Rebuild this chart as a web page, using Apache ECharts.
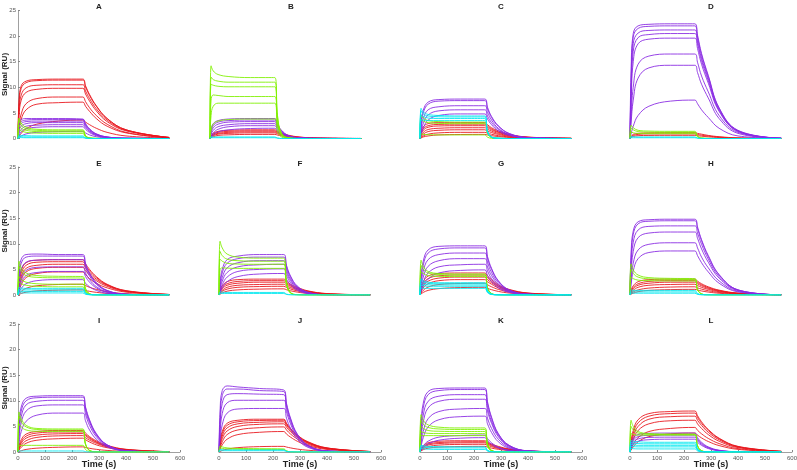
<!DOCTYPE html>
<html><head><meta charset="utf-8">
<script src="https://cdn.jsdelivr.net/npm/echarts@6/dist/echarts.min.js"></script>
<style>html,body{margin:0;padding:0;background:#fff}#c{width:797px;height:470px}</style>
</head><body><div id="c"></div>
<script>
// sample times (s)
const T = [0, 4, 12, 30, 70, 150, 240, 250, 265, 290, 330, 400, 560];
const panelNames = ['A','B','C','D','E','F','G','H','I','J','K','L'];
const xTicks = [0,100,200,300,400,500,600];
const yTicks = [0,5,10,15,20,25];

// ---- Panel A ----
const A_red = [
[0,7.5,10.3,11.2,11.5,11.6,11.6,10.3,8.6,6.4,3.9,1.7,0.2],
[0,6.8,9.8,10.9,11.3,11.4,11.4,10.1,8.4,6.3,3.9,1.7,0.2],
[0,5.5,8.5,9.9,10.4,10.5,10.5,9.3,7.8,5.8,3.6,1.6,0.2],
[0,4.5,7.5,9.0,9.6,9.8,9.8,8.7,7.3,5.4,3.3,1.5,0.2],
[0,2.5,4.8,6.8,7.8,8.1,8.1,7.2,6.0,4.5,2.8,1.2,0.1],
[0,1.8,3.8,5.6,6.7,7.0,7.1,6.3,5.3,3.9,2.4,1.1,0.1],
[0,0.4,1.0,1.9,2.8,3.4,3.6,3.2,2.7,2.0,1.2,0.5,0.05]];
const A_purple = [
[0,3.2,3.7,3.9,3.9,3.9,3.8,2.9,1.9,0.9,0.3,0.05,0],
[0,2.6,3.3,3.6,3.7,3.7,3.7,2.8,1.8,0.9,0.3,0.05,0],
[0,2.0,2.9,3.3,3.4,3.4,3.4,2.6,1.7,0.8,0.25,0.04,0],
[0,1.5,2.4,2.9,3.1,3.1,3.1,2.4,1.5,0.75,0.25,0.04,0],
[0,1.0,1.8,2.4,2.6,2.7,2.7,2.1,1.35,0.65,0.2,0.03,0],
[0,0.6,1.3,1.9,2.2,2.3,2.3,1.8,1.15,0.55,0.18,0.03,0],
[0,0.2,0.5,0.9,1.2,1.35,1.4,1.1,0.7,0.35,0.1,0.02,0]];
const A_green = [
[0,4.0,3.0,2.2,1.8,1.7,1.7,0.6,0.12,0.02,0,0,0],
[0,3.5,2.6,1.9,1.6,1.5,1.5,0.5,0.1,0.02,0,0,0],
[0,2.6,2.0,1.6,1.35,1.3,1.3,0.45,0.1,0.02,0,0,0],
[0,1.8,1.5,1.2,1.05,1.0,1.0,0.35,0.08,0.01,0,0,0]];
const A_cyan = [
[0,0.7,0.6,0.55,0.5,0.5,0.5,0.15,0.03,0,0,0,0],
[0,0.4,0.35,0.3,0.3,0.3,0.3,0.1,0.02,0,0,0,0],
[0,0.2,0.18,0.15,0.15,0.15,0.15,0.05,0,0,0,0,0]];

// ---- Panel B ----
const B_red = [
[0,0.5,1.0,1.4,1.6,1.7,1.7,1.4,1.05,0.65,0.3,0.08,0],
[0,0.4,0.85,1.2,1.4,1.5,1.5,1.25,0.92,0.57,0.26,0.07,0],
[0,0.3,0.7,1.0,1.2,1.3,1.3,1.1,0.8,0.5,0.22,0.06,0],
[0,0.25,0.55,0.85,1.0,1.1,1.1,0.92,0.68,0.42,0.19,0.05,0],
[0,0.15,0.35,0.6,0.72,0.8,0.8,0.67,0.5,0.3,0.14,0.04,0]];
const B_purple = [
[0,1.8,2.9,3.5,3.8,3.9,3.9,2.8,1.6,0.6,0.15,0.02,0],
[0,1.4,2.5,3.2,3.5,3.6,3.6,2.6,1.5,0.55,0.14,0.02,0],
[0,1.1,2.1,2.8,3.2,3.3,3.3,2.4,1.35,0.5,0.12,0.02,0],
[0,0.8,1.6,2.3,2.7,2.9,2.9,2.1,1.2,0.45,0.1,0.01,0],
[0,0.5,1.1,1.8,2.3,2.5,2.5,1.8,1.0,0.4,0.1,0.01,0],
[0,0.3,0.7,1.3,1.7,1.95,2.0,1.45,0.8,0.3,0.08,0.01,0]];
const B_green = [
[0,14.2,13.2,12.5,12.1,11.9,11.9,4.5,1.0,0.15,0,0,0],
[0,12.0,11.5,11.2,11.0,11.0,11.0,4.2,0.9,0.1,0,0,0],
[0,10.6,10.4,10.2,10.1,10.1,10.1,3.8,0.8,0.1,0,0,0],
[0,7.5,8.5,8.4,8.2,8.2,8.2,3.1,0.7,0.1,0,0,0],
[0,4.5,6.3,6.9,6.9,6.9,6.9,2.6,0.6,0.1,0,0,0],
[0,1.5,2.8,3.4,3.7,3.8,3.8,1.4,0.3,0.05,0,0,0]];
const B_cyan = [
[0,0.35,0.3,0.3,0.3,0.3,0.3,0.1,0.02,0,0,0,0],
[0,0.15,0.15,0.15,0.15,0.15,0.15,0.05,0,0,0,0,0]];

// ---- Panel C ----
const C_red = [
[0,1.3,2.3,2.9,3.1,3.1,3.1,2.7,2.1,1.5,0.8,0.28,0.03],
[0,1.0,1.9,2.5,2.75,2.8,2.8,2.4,1.9,1.3,0.73,0.25,0.03],
[0,0.8,1.6,2.2,2.45,2.5,2.5,2.15,1.7,1.2,0.65,0.22,0.02],
[0,0.55,1.2,1.75,2.0,2.1,2.1,1.8,1.45,1.0,0.55,0.19,0.02],
[0,0.35,0.85,1.35,1.6,1.7,1.7,1.46,1.17,0.8,0.44,0.15,0.02],
[0,0.2,0.5,0.85,1.1,1.2,1.2,1.03,0.83,0.56,0.31,0.11,0.01],
[0,0.1,0.3,0.5,0.7,0.78,0.8,0.69,0.55,0.38,0.21,0.07,0]];
const C_purple = [
[0,3.0,5.5,7.1,7.6,7.7,7.7,6.1,4.3,2.5,1.0,0.2,0],
[0,2.6,5.0,6.7,7.3,7.4,7.4,5.8,4.1,2.4,0.95,0.18,0],
[0,1.9,3.9,5.6,6.2,6.4,6.4,5.1,3.6,2.0,0.8,0.16,0],
[0,1.3,2.9,4.6,5.4,5.6,5.6,4.4,3.1,1.8,0.7,0.14,0],
[0,0.8,2.0,3.6,4.5,4.8,4.8,3.8,2.7,1.5,0.6,0.12,0]];
const C_green = [
[0,4.6,4.0,3.5,3.3,3.2,3.2,1.1,0.2,0.03,0,0,0],
[0,3.8,3.4,3.1,2.95,2.9,2.9,1.0,0.2,0.03,0,0,0],
[0,0.9,0.8,0.75,0.7,0.7,0.7,0.25,0.05,0,0,0,0]];
const C_cyan = [
[0,5.9,5.2,4.7,4.5,4.4,4.4,1.5,0.3,0.05,0,0,0],
[0,5.4,4.8,4.4,4.25,4.2,4.2,1.4,0.3,0.05,0,0,0],
[0,4.6,4.3,4.0,3.9,3.9,3.9,1.3,0.25,0.04,0,0,0],
[0,3.6,3.6,3.5,3.5,3.5,3.5,1.2,0.25,0.04,0,0,0]];

// ---- Panel D ----
const D_red = [
[0,0.4,0.8,1.0,1.1,1.15,1.15,1.0,0.85,0.6,0.35,0.12,0.01],
[0,0.3,0.6,0.8,0.9,0.9,0.9,0.78,0.65,0.47,0.27,0.09,0.01],
[0,0.2,0.4,0.55,0.6,0.62,0.62,0.54,0.45,0.32,0.19,0.06,0]];
const D_purple = [
[0,13,20.5,22.0,22.3,22.4,22.4,20.2,16.6,12.3,6.0,1.6,0.05],
[0,11,19.8,21.5,21.9,22.0,22.0,19.8,16.3,12.1,5.9,1.5,0.05],
[0,9.5,18.5,20.6,21.1,21.2,21.2,19.1,15.7,11.7,5.7,1.5,0.05],
[0,8,17,19.7,20.3,20.5,20.5,18.5,15.2,11.3,5.5,1.4,0.05],
[0,6.5,15,18.5,19.4,19.6,19.6,17.6,14.5,10.8,5.3,1.4,0.05],
[0,4.0,10,14.5,16.1,16.5,16.5,14.9,12.2,9.1,4.5,1.2,0.04],
[0,3.0,7.5,11.8,13.8,14.3,14.3,12.9,10.6,7.9,3.9,1.0,0.03],
[0,0.9,2.4,4.5,6.3,7.3,7.5,6.8,5.6,4.1,2.0,0.5,0.02]];
const D_green = [
[0,2.6,2.1,1.6,1.45,1.4,1.4,0.5,0.1,0.02,0,0,0],
[0,2.0,1.7,1.35,1.25,1.2,1.2,0.42,0.08,0.01,0,0,0],
[0,1.3,1.1,1.0,0.95,0.95,0.95,0.33,0.07,0.01,0,0,0]];
const D_cyan = [
[0,0.4,0.35,0.3,0.3,0.3,0.3,0.1,0.02,0,0,0,0],
[0,0.15,0.15,0.15,0.15,0.15,0.15,0.05,0,0,0,0,0]];

// ---- Panel E ----
const E_red = [
[0,2.5,4.8,6.3,6.8,6.9,6.9,6.1,5.0,3.6,2.1,0.86,0.1],
[0,2.0,4.2,5.8,6.4,6.5,6.5,5.7,4.7,3.4,2.0,0.8,0.1],
[0,1.6,3.6,5.2,5.8,6.0,6.0,5.3,4.3,3.1,1.9,0.75,0.1],
[0,1.2,2.9,4.5,5.2,5.4,5.4,4.75,3.9,2.8,1.7,0.68,0.09],
[0,0.8,2.0,3.4,4.2,4.5,4.5,4.0,3.2,2.3,1.4,0.56,0.07],
[0,0.3,0.7,1.3,1.8,2.05,2.1,1.85,1.5,1.1,0.65,0.26,0.03],
[0,0.1,0.3,0.55,0.8,0.95,1.0,0.88,0.72,0.52,0.31,0.12,0.02]];
const E_purple = [
[0,4.5,7.0,7.9,8.0,7.9,7.9,6.2,4.3,2.4,0.9,0.15,0],
[0,3.5,6.2,7.4,7.6,7.6,7.6,5.9,4.1,2.3,0.85,0.15,0],
[0,2.5,5.0,6.4,6.8,6.9,6.9,5.4,3.7,2.1,0.8,0.14,0],
[0,1.5,3.3,4.8,5.4,5.5,5.5,4.3,3.0,1.65,0.6,0.1,0],
[0,1.0,2.4,3.8,4.4,4.6,4.6,3.6,2.5,1.4,0.5,0.09,0],
[0,0.5,1.3,2.2,2.8,3.0,3.0,2.3,1.6,0.9,0.33,0.06,0]];
const E_green = [
[0,6.6,5.3,4.3,3.8,3.65,3.6,1.3,0.25,0.04,0,0,0],
[0,5.6,4.6,3.8,3.45,3.35,3.3,1.2,0.23,0.03,0,0,0],
[0,3.6,3.0,2.5,2.2,2.1,2.1,0.75,0.15,0.02,0,0,0],
[0,2.6,2.2,1.9,1.7,1.6,1.6,0.57,0.11,0.02,0,0,0]];
const E_cyan = [
[0,1.5,1.35,1.3,1.3,1.3,1.3,0.45,0.09,0.01,0,0,0],
[0,1.1,1.0,1.0,1.0,1.0,1.0,0.35,0.07,0.01,0,0,0],
[0,0.8,0.7,0.7,0.7,0.7,0.7,0.25,0.05,0,0,0,0],
[0,0.4,0.4,0.4,0.4,0.4,0.4,0.14,0.03,0,0,0,0]];

// ---- Panel F ----
const F_red = [
[0,0.9,1.8,2.6,3.0,3.1,3.1,2.7,2.1,1.5,0.8,0.28,0.03],
[0,0.7,1.5,2.2,2.65,2.8,2.8,2.4,1.9,1.3,0.73,0.25,0.03],
[0,0.55,1.2,1.9,2.3,2.5,2.5,2.15,1.7,1.2,0.65,0.22,0.02],
[0,0.4,0.9,1.5,1.9,2.05,2.1,1.8,1.45,1.0,0.55,0.19,0.02],
[0,0.3,0.7,1.15,1.5,1.65,1.7,1.46,1.17,0.8,0.44,0.15,0.02],
[0,0.15,0.4,0.75,1.0,1.15,1.2,1.03,0.83,0.56,0.31,0.11,0.01]];
const F_purple = [
[0,2.5,5.0,6.9,7.6,7.9,7.9,5.8,3.7,1.75,0.53,0.06,0],
[0,2.0,4.3,6.2,7.1,7.4,7.4,5.5,3.5,1.6,0.5,0.06,0],
[0,1.5,3.4,5.3,6.3,6.7,6.7,5.0,3.1,1.5,0.45,0.05,0],
[0,1.1,2.7,4.4,5.5,5.9,6.0,4.4,2.8,1.3,0.4,0.05,0],
[0,0.8,2.0,3.5,4.6,5.0,5.1,3.8,2.4,1.1,0.34,0.04,0],
[0,0.5,1.4,2.6,3.6,4.1,4.2,3.1,2.0,0.92,0.28,0.03,0]];
const F_green = [
[0,10.5,9.2,8.0,7.4,7.2,7.2,2.6,0.5,0.07,0,0,0],
[0,8.5,7.7,7.0,6.7,6.6,6.6,2.4,0.45,0.06,0,0,0],
[0,7.0,6.6,6.2,6.05,6.0,6.0,2.2,0.4,0.05,0,0,0],
[0,5.0,5.3,5.25,5.2,5.2,5.2,1.9,0.35,0.05,0,0,0]];
const F_cyan = [
[0,0.6,0.55,0.5,0.5,0.5,0.5,0.18,0.04,0,0,0,0],
[0,0.3,0.3,0.3,0.3,0.3,0.3,0.1,0.02,0,0,0,0]];

// ---- Panel G ----
const G_red = [
[0,1.3,2.6,3.7,4.2,4.3,4.3,3.7,3.0,2.0,1.1,0.39,0.04],
[0,1.0,2.2,3.2,3.75,3.9,3.9,3.35,2.7,1.8,1.0,0.35,0.04],
[0,0.8,1.8,2.7,3.3,3.5,3.5,3.0,2.4,1.65,0.9,0.32,0.03],
[0,0.6,1.4,2.2,2.8,3.0,3.0,2.6,2.1,1.4,0.78,0.27,0.03],
[0,0.4,0.9,1.55,2.05,2.25,2.3,2.0,1.6,1.1,0.6,0.21,0.02],
[0,0.2,0.5,0.9,1.25,1.45,1.5,1.3,1.04,0.7,0.39,0.14,0.01]];
const G_purple = [
[0,3.5,6.6,8.8,9.5,9.6,9.6,7.5,5.2,2.8,1.0,0.17,0],
[0,2.9,5.8,8.2,9.0,9.2,9.2,7.2,5.0,2.7,0.97,0.17,0],
[0,2.2,4.6,6.9,7.9,8.2,8.2,6.4,4.4,2.4,0.86,0.15,0],
[0,1.6,3.5,5.6,6.7,7.1,7.1,5.5,3.8,2.1,0.75,0.13,0],
[0,1.1,2.5,4.3,5.5,5.9,6.0,4.7,3.2,1.75,0.63,0.11,0],
[0,0.7,1.7,3.1,4.3,4.8,4.9,3.8,2.65,1.4,0.51,0.09,0]];
const G_green = [
[0,6.8,5.6,4.6,4.2,4.1,4.1,1.5,0.3,0.04,0,0,0],
[0,5.8,5.0,4.3,4.0,3.9,3.9,1.4,0.28,0.04,0,0,0],
[0,4.5,4.2,3.8,3.65,3.6,3.6,1.3,0.26,0.04,0,0,0]];
const G_cyan = [
[0,3.2,2.8,2.5,2.4,2.4,2.4,0.85,0.17,0.02,0,0,0],
[0,2.8,2.5,2.3,2.2,2.2,2.2,0.78,0.15,0.02,0,0,0],
[0,2.3,2.1,2.0,1.95,1.95,1.95,0.7,0.14,0.02,0,0,0],
[0,1.9,1.8,1.7,1.7,1.7,1.7,0.6,0.12,0.02,0,0,0],
[0,1.4,1.3,1.3,1.3,1.3,1.3,0.46,0.09,0.01,0,0,0]];

// ---- Panel H ----
const H_red = [
[0,0.9,1.8,2.6,3.0,3.1,3.1,2.7,2.2,1.6,0.95,0.38,0.05],
[0,0.7,1.5,2.2,2.65,2.8,2.8,2.45,2.0,1.45,0.86,0.34,0.04],
[0,0.55,1.2,1.9,2.3,2.5,2.5,2.2,1.8,1.3,0.77,0.3,0.04],
[0,0.4,0.9,1.5,1.9,2.05,2.1,1.85,1.5,1.1,0.65,0.26,0.03],
[0,0.25,0.6,1.0,1.35,1.55,1.6,1.4,1.15,0.83,0.5,0.2,0.02],
[0,0.15,0.35,0.65,0.9,1.05,1.1,0.97,0.79,0.57,0.34,0.14,0.02]];
const H_purple = [
[0,8.0,12.5,14.3,14.7,14.8,14.8,13.3,10.8,7.7,4.0,1.0,0.03],
[0,7.0,11.8,13.9,14.4,14.5,14.5,13.0,10.6,7.5,3.9,1.0,0.03],
[0,5.5,10.3,12.7,13.4,13.5,13.5,12.1,9.9,7.0,3.6,0.95,0.03],
[0,4.2,8.5,11.2,12.1,12.3,12.3,11.1,9.0,6.4,3.3,0.86,0.02],
[0,2.8,6.2,8.8,9.9,10.2,10.2,9.2,7.4,5.3,2.75,0.71,0.02],
[0,2.0,4.7,7.1,8.3,8.6,8.6,7.7,6.3,4.5,2.3,0.6,0.02]];
const H_green = [
[0,6.1,4.9,3.9,3.4,3.25,3.2,1.15,0.23,0.03,0,0,0],
[0,5.0,4.2,3.5,3.15,3.05,3.0,1.1,0.21,0.03,0,0,0],
[0,3.5,3.2,2.9,2.8,2.75,2.75,1.0,0.2,0.03,0,0,0]];
const H_cyan = [
[0,1.0,0.9,0.9,0.9,0.9,0.9,0.32,0.06,0.01,0,0,0],
[0,0.6,0.6,0.6,0.6,0.6,0.6,0.21,0.04,0,0,0,0],
[0,0.35,0.35,0.35,0.35,0.35,0.35,0.12,0.02,0,0,0,0]];

// ---- Panel I ----
const I_red = [
[0,1.2,2.4,3.5,4.0,4.2,4.2,3.7,3.0,2.2,1.3,0.53,0.07],
[0,1.0,2.0,3.1,3.7,3.9,3.9,3.4,2.8,2.0,1.2,0.49,0.06],
[0,0.8,1.7,2.7,3.3,3.55,3.6,3.15,2.6,1.9,1.1,0.45,0.06],
[0,0.6,1.3,2.2,2.85,3.15,3.2,2.8,2.3,1.7,1.0,0.4,0.05],
[0,0.4,0.9,1.7,2.3,2.6,2.7,2.4,1.95,1.4,0.84,0.34,0.04],
[0,0.1,0.25,0.5,0.75,0.93,1.0,0.88,0.72,0.52,0.31,0.12,0.02]];
const I_purple = [
[0,5.5,8.8,10.5,10.9,11.0,11.0,8.8,6.3,3.6,1.4,0.27,0],
[0,4.6,8.0,10.0,10.6,10.7,10.7,8.6,6.1,3.5,1.4,0.27,0],
[0,3.6,6.9,9.2,9.9,10.1,10.1,8.1,5.8,3.3,1.3,0.25,0],
[0,2.8,5.7,8.0,9.0,9.2,9.2,7.4,5.2,3.0,1.2,0.23,0],
[0,1.8,4.0,6.0,7.2,7.6,7.6,6.1,4.3,2.5,1.0,0.19,0]];
const I_green = [
[0,7.8,6.5,5.2,4.6,4.5,4.5,1.6,0.32,0.05,0,0,0],
[0,7.0,5.9,4.9,4.4,4.3,4.3,1.55,0.3,0.04,0,0,0],
[0,5.5,4.9,4.3,4.05,4.0,4.0,1.45,0.28,0.04,0,0,0],
[0,1.2,1.3,1.3,1.3,1.3,1.3,0.47,0.09,0.01,0,0,0]];
const I_cyan = [
[0,0.25,0.2,0.2,0.2,0.2,0.2,0.07,0.01,0,0,0,0]];

// ---- Panel J ----
const J_red = [
[0,2.0,4.0,5.6,6.2,6.4,6.4,5.6,4.6,3.3,2.0,0.8,0.1],
[0,1.7,3.6,5.2,5.9,6.15,6.2,5.45,4.45,3.2,1.9,0.78,0.1],
[0,1.4,3.1,4.7,5.5,5.8,5.9,5.2,4.25,3.05,1.8,0.74,0.09],
[0,1.1,2.6,4.1,5.0,5.4,5.5,4.85,3.95,2.85,1.7,0.69,0.09],
[0,0.8,2.0,3.4,4.3,4.75,4.9,4.3,3.5,2.55,1.5,0.61,0.08],
[0,0.6,1.4,2.5,3.4,3.85,4.0,3.5,2.9,2.1,1.25,0.5,0.06],
[0,0.1,0.3,0.55,0.85,1.05,1.1,0.97,0.8,0.57,0.34,0.14,0.02]];
const J_purple = [
[0,8.0,12.0,12.9,12.7,12.4,12.1,9.5,6.6,3.5,1.3,0.22,0],
[0,6.5,11.0,12.3,12.3,12.0,11.8,9.2,6.4,3.4,1.25,0.21,0],
[0,5.0,9.5,11.2,11.4,11.3,11.2,8.7,6.0,3.2,1.2,0.2,0],
[0,3.5,7.5,9.6,10.1,10.1,10.1,7.9,5.5,2.9,1.06,0.18,0],
[0,2.3,5.3,7.6,8.4,8.5,8.5,6.6,4.6,2.5,0.9,0.15,0]];
const J_green = [
[0,1.2,1.0,0.8,0.7,0.65,0.6,0.22,0.04,0,0,0,0],
[0,0.8,0.7,0.6,0.55,0.5,0.5,0.18,0.03,0,0,0,0]];
const J_cyan = [
[0,0.5,0.45,0.4,0.4,0.4,0.4,0.14,0.03,0,0,0,0],
[0,0.25,0.25,0.25,0.25,0.25,0.25,0.09,0.02,0,0,0,0]];

// ---- Panel K ----
const K_red = [
[0,0.6,1.2,1.8,2.1,2.2,2.2,1.9,1.55,1.1,0.6,0.2,0.02],
[0,0.5,1.0,1.55,1.85,1.98,2.0,1.72,1.4,0.95,0.54,0.18,0.02],
[0,0.4,0.85,1.35,1.65,1.78,1.8,1.55,1.25,0.85,0.47,0.16,0.02],
[0,0.3,0.65,1.05,1.35,1.48,1.5,1.3,1.05,0.7,0.39,0.14,0.01],
[0,0.2,0.45,0.75,0.95,1.07,1.1,0.95,0.76,0.52,0.29,0.1,0.01]];
const K_purple = [
[0,5.5,9.5,11.8,12.4,12.5,12.5,9.8,6.8,3.6,1.3,0.22,0],
[0,4.5,8.6,11.2,12.0,12.2,12.2,9.5,6.6,3.5,1.28,0.22,0],
[0,3.4,7.2,9.9,10.9,11.2,11.2,8.7,6.0,3.25,1.18,0.2,0],
[0,2.6,5.8,8.6,9.9,10.3,10.3,8.0,5.6,3.0,1.08,0.19,0],
[0,1.7,4.0,6.5,7.9,8.4,8.5,6.6,4.6,2.5,0.9,0.15,0],
[0,1.1,2.8,4.9,6.3,6.9,7.0,5.5,3.8,2.0,0.74,0.13,0],
[0,0.5,1.2,2.1,2.9,3.2,3.3,2.6,1.8,0.95,0.35,0.06,0],
[0,0.35,0.9,1.6,2.3,2.7,2.8,2.2,1.5,0.8,0.3,0.05,0]];
const K_green = [
[0,7.3,6.2,5.3,4.85,4.7,4.7,1.7,0.33,0.05,0,0,0],
[0,6.2,5.4,4.8,4.5,4.4,4.4,1.6,0.31,0.04,0,0,0],
[0,5.0,4.6,4.2,4.05,4.0,4.0,1.45,0.28,0.04,0,0,0],
[0,4.0,3.8,3.65,3.6,3.6,3.6,1.3,0.25,0.04,0,0,0],
[0,3.3,3.2,3.2,3.2,3.2,3.2,1.15,0.22,0.03,0,0,0]];
const K_cyan = [
[0,1.4,1.2,1.1,1.05,1.0,1.0,0.35,0.07,0.01,0,0,0],
[0,1.1,0.95,0.85,0.8,0.8,0.8,0.28,0.06,0.01,0,0,0],
[0,0.7,0.6,0.55,0.5,0.5,0.5,0.18,0.04,0,0,0,0]];

// ---- Panel L ----
const L_red = [
[0,2.0,4.2,6.3,7.5,7.9,8.0,7.1,5.9,4.4,2.7,1.1,0.14],
[0,1.6,3.6,5.7,7.0,7.5,7.6,6.75,5.6,4.2,2.6,1.05,0.13],
[0,1.3,3.0,5.0,6.4,6.9,7.0,6.2,5.2,3.85,2.4,0.97,0.12],
[0,1.0,2.4,4.2,5.5,6.1,6.2,5.5,4.6,3.4,2.1,0.86,0.11],
[0,0.6,1.5,2.8,4.0,4.6,4.8,4.25,3.55,2.65,1.65,0.66,0.08],
[0,0.4,1.0,2.0,3.0,3.55,3.7,3.3,2.75,2.05,1.26,0.51,0.06]];
const L_purple = [
[0,1.5,2.7,3.4,3.65,3.7,3.7,2.8,1.9,1.0,0.35,0.06,0],
[0,1.2,2.3,3.0,3.25,3.3,3.3,2.5,1.7,0.9,0.3,0.05,0],
[0,0.9,1.9,2.55,2.85,2.9,2.9,2.2,1.5,0.78,0.27,0.05,0],
[0,0.7,1.5,2.1,2.4,2.5,2.5,1.9,1.3,0.67,0.23,0.04,0]];
const L_green = [
[0,6.2,5.0,4.0,3.6,3.5,3.5,1.25,0.25,0.04,0,0,0],
[0,5.0,4.3,3.7,3.45,3.4,3.4,1.2,0.24,0.03,0,0,0],
[0,3.6,3.4,3.3,3.3,3.3,3.3,1.18,0.23,0.03,0,0,0]];
const L_cyan = [
[0,2.3,2.1,2.0,1.9,1.9,1.9,0.67,0.13,0.02,0,0,0],
[0,1.9,1.75,1.65,1.6,1.6,1.6,0.56,0.11,0.02,0,0,0],
[0,1.5,1.4,1.3,1.3,1.3,1.3,0.46,0.09,0.01,0,0,0],
[0,1.1,1.05,1.0,1.0,1.0,1.0,0.35,0.07,0.01,0,0,0],
[0,0.7,0.65,0.6,0.6,0.6,0.6,0.21,0.04,0,0,0,0]];

const panelData = {
  A:{red:A_red,purple:A_purple,green:A_green,cyan:A_cyan},
  B:{red:B_red,purple:B_purple,green:B_green,cyan:B_cyan},
  C:{red:C_red,purple:C_purple,green:C_green,cyan:C_cyan},
  D:{red:D_red,purple:D_purple,green:D_green,cyan:D_cyan},
  E:{red:E_red,purple:E_purple,green:E_green,cyan:E_cyan},
  F:{red:F_red,purple:F_purple,green:F_green,cyan:F_cyan},
  G:{red:G_red,purple:G_purple,green:G_green,cyan:G_cyan},
  H:{red:H_red,purple:H_purple,green:H_green,cyan:H_cyan},
  I:{red:I_red,purple:I_purple,green:I_green,cyan:I_cyan},
  J:{red:J_red,purple:J_purple,green:J_green,cyan:J_cyan},
  K:{red:K_red,purple:K_purple,green:K_green,cyan:K_cyan},
  L:{red:L_red,purple:L_purple,green:L_green,cyan:L_cyan}
};

// ---- styling / layout (not data) ----
const colors = {red:'#e8161c', purple:'#8a2be2', green:'#80f000', cyan:'#00e8f0'};
const drawOrder = ['red','purple','green','cyan'];
const colLeft = [18, 219, 420, 630];
const rowTop = [10.5, 167, 324];
const gw = 162, gh = 128;
const font = 'Liberation Sans, Arial, sans-serif';

const grids=[], xAxes=[], yAxes=[], series=[], titles=[];
panelNames.forEach((p, i) => {
  const r = Math.floor(i/4), c = i%4;
  let left = colLeft[c];
  if (p === 'B') left = 210;
  const top = rowTop[r];
  grids.push({left:left, top:top, width:gw, height:gh, outerBoundsMode:'none', containLabel:false});
  titles.push({text:p, left:left+gw/2, top:top-7.5, textAlign:'center', padding:0,
    textStyle:{fontSize:8, fontWeight:'bold', color:'#222', fontFamily:font}});
  const showX = r === 2, showY = c === 0;
  xAxes.push({gridIndex:i, type:'value', min:0, max:600, interval:100,
    show: showX,
    axisLine:{show:showX, lineStyle:{color:'#888', width:0.8}},
    axisTick:{show:showX, inside:true, length:2, lineStyle:{color:'#888'}},
    axisLabel:{show:showX, fontSize:6, color:'#555', margin:3, fontFamily:font,
      formatter: v => xTicks.includes(v) ? String(v) : ''},
    splitLine:{show:false},
    name: showX ? 'Time (s)' : '', nameLocation:'middle', nameGap:8, nameMoveOverlap:false,
    nameTextStyle:{fontSize:9, fontWeight:'bold', color:'#222', fontFamily:font}});
  yAxes.push({gridIndex:i, type:'value', min:0, max:25, interval:5,
    show: showY,
    axisLine:{show:showY, lineStyle:{color:'#888', width:0.8}},
    axisTick:{show:showY, inside:true, length:2, lineStyle:{color:'#888'}},
    axisLabel:{show:showY, fontSize:6, color:'#555', margin:2, fontFamily:font,
      formatter: v => yTicks.includes(v) ? String(v) : ''},
    splitLine:{show:false},
    name: showY ? 'Signal (RU)' : '', nameLocation:'middle', nameGap:9, nameRotate:90,
    nameMoveOverlap:false,
    nameTextStyle:{fontSize:8, fontWeight:'bold', color:'#222', fontFamily:font}});
  drawOrder.forEach(g => {
    (panelData[p][g] || []).forEach(vals => {
      series.push({type:'line', xAxisIndex:i, yAxisIndex:i, showSymbol:false,
        smooth:0.4, silent:true, animation:false,
        data: T.map((t,k)=>[t, vals[k]]),
        lineStyle:{color:colors[g], width:1, opacity:0.88}});
    });
  });
});

const chart = echarts.init(document.getElementById('c'), null, {renderer:'canvas'});
chart.setOption({animation:false, backgroundColor:'#fff', title:titles,
  grid:grids, xAxis:xAxes, yAxis:yAxes, series:series});
</script></body></html>
